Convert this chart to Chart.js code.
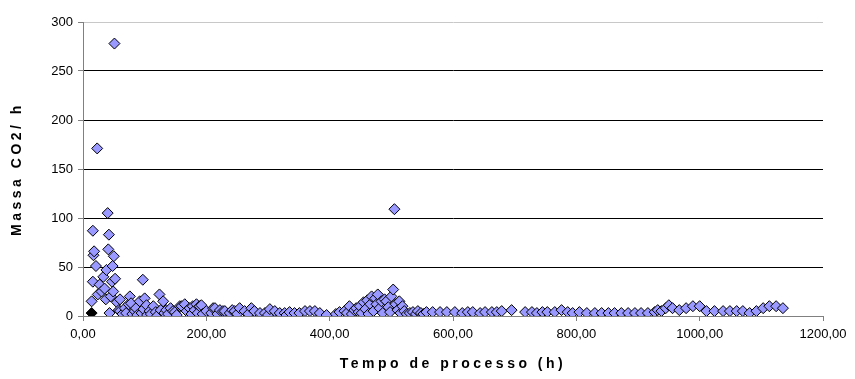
<!DOCTYPE html>
<html>
<head>
<meta charset="utf-8">
<script src="https://cdn.jsdelivr.net/npm/chart.js@4.4.1/dist/chart.umd.min.js"></script>
<style>
  html, body { margin: 0; padding: 0; background: #fff; }
  #wrap { width: 855px; height: 379px; }
</style>
</head>
<body>
<div id="wrap"><canvas id="co2"></canvas></div>
<script>
// process time (h) and CO2 mass per hour
const timeH = [
  14, 14, 16, 16, 17, 18, 21, 23, 24, 27,
  30, 33, 35, 37, 38, 40, 41, 42, 43, 45,
  47, 48, 49, 50, 51, 52, 55, 58, 60, 60,
  64, 68, 70, 74, 76, 78, 80, 84, 86, 88,
  92, 95, 97, 98, 100, 103, 104, 108, 110, 114,
  118, 120, 124, 126, 130, 132, 135, 138, 142, 146,
  149, 152, 157, 160, 165, 168, 173, 176, 178, 181,
  184, 186, 189, 192, 194, 200,
  208, 211, 214, 218, 222, 227, 230, 238, 242, 246,
  250, 254, 262, 268, 273, 278, 287, 295, 300, 303,
  311, 319, 327, 330, 335, 343, 351, 360, 368, 376,
  384, 395, 410, 416, 424, 428, 432, 436, 440, 443,
  447, 449,
  452, 455, 458, 461, 463, 466, 468, 471, 474, 476,
  478, 481, 484, 486, 489, 492, 495, 498, 500, 503,
  505, 507, 510, 513, 515, 518, 521, 525, 530, 535,
  540, 543, 548, 552, 557,
  567, 579, 590, 603, 615, 624, 632, 644, 652, 663,
  671, 679, 695, 717, 728, 736, 745, 753, 765, 776,
  786, 794, 805, 817, 830, 841, 852, 862, 873, 884,
  895, 905, 916, 927, 932,
  938, 945, 950, 956, 967, 978, 989, 1000, 1011, 1024,
  1038, 1049, 1060, 1070, 1081, 1092, 1103, 1113, 1124, 1135
];
const massCO2 = [
  3, 15, 35, 87, 62, 66, 51, 171, 22, 32,
  25, 40, 28, 17, 47, 105, 68, 83, 3, 20,
  35, 51, 25, 61, 278, 38, 14, 6, 17, 5,
  2, 8, 3, 12, 20, 13, 2, 5, 8, 1,
  15, 3, 37, 7, 18, 11, 1, 5, 2, 10,
  4, 0, 22, 6, 15, 3, 6, 2, 8, 5,
  4, 1, 10, 10, 12, 5, 8, 2, 10, 6,
  12, 3, 10, 11, 2, 5,
  3, 8, 8, 2, 6, 5, 5, 3, 6, 5,
  2, 8, 5, 2, 8, 5, 3, 3, 1, 7,
  5, 3, 3, 1, 4, 3, 3, 5, 5, 5,
  3, 1, 2, 4, 5, 3, 10, 2, 6, 8,
  4, 10,
  3, 14, 7, 16, 2, 12, 20, 5, 18, 12,
  22, 8, 15, 3, 17, 15, 9, 4, 20, 27,
  109, 12, 6, 15, 3, 10, 5, 2, 3, 4,
  2, 5, 3, 2, 4,
  4, 4, 4, 4, 3, 4, 4, 3, 4, 4,
  4, 5, 6, 4, 4, 3, 4, 4, 4, 6,
  4, 3, 4, 3, 3, 3, 3, 3, 3, 3,
  3, 3, 3, 4, 6,
  5, 8, 11, 8, 6, 8, 10, 10, 5, 5,
  5, 5, 5, 5, 3, 5, 8, 10, 10, 8
];
const xTicks = [0, 200, 400, 600, 800, 1000, 1200];
const yTicks = [0, 50, 100, 150, 200, 250, 300];

const FONT = "'Liberation Sans', Arial, sans-serif";
const points = timeH.map((t, i) => ({ x: t, y: massCO2[i] }));

const chart = new Chart(document.getElementById("co2"), {
  type: "scatter",
  data: {
    datasets: [{
      label: "Massa CO2/ h",
      data: points,
      pointStyle: "rectRot",
      pointRadius: 5.5,
      pointHoverRadius: 5.5,
      borderWidth: 1,
      pointBorderColor: "#000",
      pointBackgroundColor: (ctx) => ctx.dataIndex === 0 ? "#000" : "#9999FF",
    }],
  },
  options: {
    responsive: true,
    maintainAspectRatio: false,
    animation: false,
    layout: { padding: { left: 0, top: 22, right: 32, bottom: 0 } },
    plugins: { legend: { display: false }, tooltip: { enabled: false } },
    scales: {
      x: {
        type: "linear",
        min: 0, max: 1200,
        afterBuildTicks: (s) => { s.ticks = xTicks.map((v) => ({ value: v })); },
        afterFit: (s) => { s.height = 63; },
        grid: { drawOnChartArea: false, tickLength: 5, color: "#808080" },
        border: { color: "#808080" },
        ticks: {
          padding: 6,
          maxRotation: 0,
          color: "#000",
          font: { family: FONT, size: 13 },
          callback: (v) => v.toFixed(2).replace(".", ","),
        },
        title: {
          display: true,
          text: "Tempo de processo (h)",
          color: "#000",
          font: { family: FONT, size: 14, weight: "bold" },
          padding: { top: 0, bottom: 6 },
        },
      },
      y: {
        min: 0, max: 300,
        afterBuildTicks: (s) => { s.ticks = yTicks.map((v) => ({ value: v })); },
        afterFit: (s) => { s.width = 83; },
        grid: {
          tickLength: 5,
          color: (c) => c.tick && c.tick.value === 300 ? "#c8c8c8" : (c.tick && c.tick.value === 0 ? "#808080" : "#000"),
          tickColor: "#808080",
        },
        border: { color: "#808080" },
        ticks: {
          padding: 5,
          color: "#000",
          font: { family: FONT, size: 13 },
        },
        title: {
          display: true,
          text: "Massa CO2/ h",
          color: "#000",
          font: { family: FONT, size: 14, weight: "bold" },
          padding: { top: 9, bottom: 0 },
        },
      },
    },
  },
});

/* the axis titles in the original are letter-spaced */
Object.values(chart.scales).forEach((s) => {
  const drawTitle = s.drawTitle.bind(s);
  s.drawTitle = () => {
    s.ctx.save();
    s.ctx.letterSpacing = "3.5px";
    drawTitle();
    s.ctx.restore();
  };
});
chart.draw();
</script>
</body>
</html>
